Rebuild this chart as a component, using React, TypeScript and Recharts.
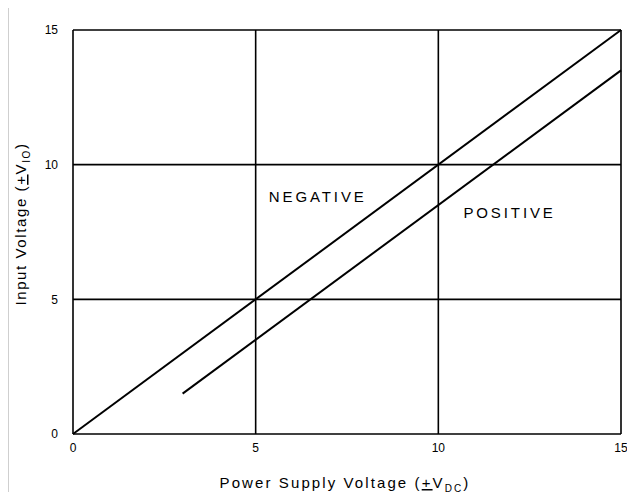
import React from "react";
import {
  LineChart,
  Line,
  XAxis,
  YAxis,
  CartesianGrid,
  ReferenceDot,
  Label,
} from "recharts";

const TICKS = [0, 5, 10, 15];

const negativeX = [0, 15];
const negativeY = [0, 15];
const positiveX = [3, 15];
const positiveY = [1.5, 13.5];

const annotations = [
  { text: "NEGATIVE", x: 6.7, y: 8.8 },
  { text: "POSITIVE", x: 11.95, y: 8.2 },
];

const negativeData = negativeX.map((x, i) => ({ x, y: negativeY[i] }));
const positiveData = positiveX.map((x, i) => ({ x, y: positiveY[i] }));

const FONT = "'Liberation Sans', Arial, sans-serif";

const XTitle = (props: any) => {
  const { viewBox } = props;
  const cx = viewBox.x + viewBox.width / 2;
  return (
    <text
      x={cx - 2}
      y={488}
      textAnchor="middle"
      fontFamily={FONT}
      fontSize={15}
      letterSpacing={2.1}
      fill="#000"
    >
      Power Supply Voltage (
      <tspan textDecoration="underline">+</tspan>V
      <tspan fontSize={10} dy={4}>DC</tspan>
      <tspan dy={-4}>)</tspan>
    </text>
  );
};

const YTitle = () => (
  <text
    x={0}
    y={0}
    transform="translate(26,224) rotate(-90)"
    textAnchor="middle"
    fontFamily={FONT}
    fontSize={15}
    letterSpacing={1.6}
    fill="#000"
  >
    Input Voltage (
    <tspan textDecoration="underline">+</tspan>V
    <tspan fontSize={10} dy={4}>IO</tspan>
    <tspan dy={-4}>)</tspan>
  </text>
);

export default function App() {
  return (
    <div
      style={{
        position: "relative",
        margin: -8,
        width: 635,
        height: 500,
        background: "#fff",
        overflow: "hidden",
      }}
    >
      <div
        style={{
          position: "absolute",
          left: 7,
          top: 2,
          width: 640,
          height: 510,
          borderLeft: "2px solid #cfcfcf",
          borderTop: "2px solid #cfcfcf",
          boxSizing: "border-box",
        }}
      />
      <div style={{ position: "absolute", left: 0, top: 0 }}>
        <LineChart
          width={635}
          height={500}
          margin={{ top: 30, right: 14, bottom: 0, left: 0 }}
        >
          <CartesianGrid stroke="#000" strokeWidth={1.6} />
          <XAxis
            type="number"
            dataKey="x"
            domain={[0, 15]}
            ticks={TICKS}
            height={66}
            axisLine={false}
            tickLine={false}
            tickMargin={3}
            tick={{ fontFamily: FONT, fontSize: 12, fill: "#000" }}
          >
            <Label content={<XTitle />} />
          </XAxis>
          <YAxis
            type="number"
            dataKey="y"
            domain={[0, 15]}
            ticks={TICKS}
            width={73}
            axisLine={false}
            tickLine={false}
            tickMargin={9}
            tick={{ fontFamily: FONT, fontSize: 12, fill: "#000" }}
          >
            <Label content={<YTitle />} />
          </YAxis>
          <Line
            data={negativeData}
            dataKey="y"
            stroke="#000"
            strokeWidth={2}
            dot={false}
            isAnimationActive={false}
          />
          <Line
            data={positiveData}
            dataKey="y"
            stroke="#000"
            strokeWidth={2}
            dot={false}
            isAnimationActive={false}
          />
          {annotations.map((a) => (
            <ReferenceDot
              key={a.text}
              x={a.x}
              y={a.y}
              r={0}
              fill="none"
              stroke="none"
              label={{
                value: a.text,
                position: "center",
                fontFamily: FONT,
                fontSize: 15,
                letterSpacing: 2.9,
                fill: "#000",
              }}
            />
          ))}
        </LineChart>
      </div>
    </div>
  );
}
